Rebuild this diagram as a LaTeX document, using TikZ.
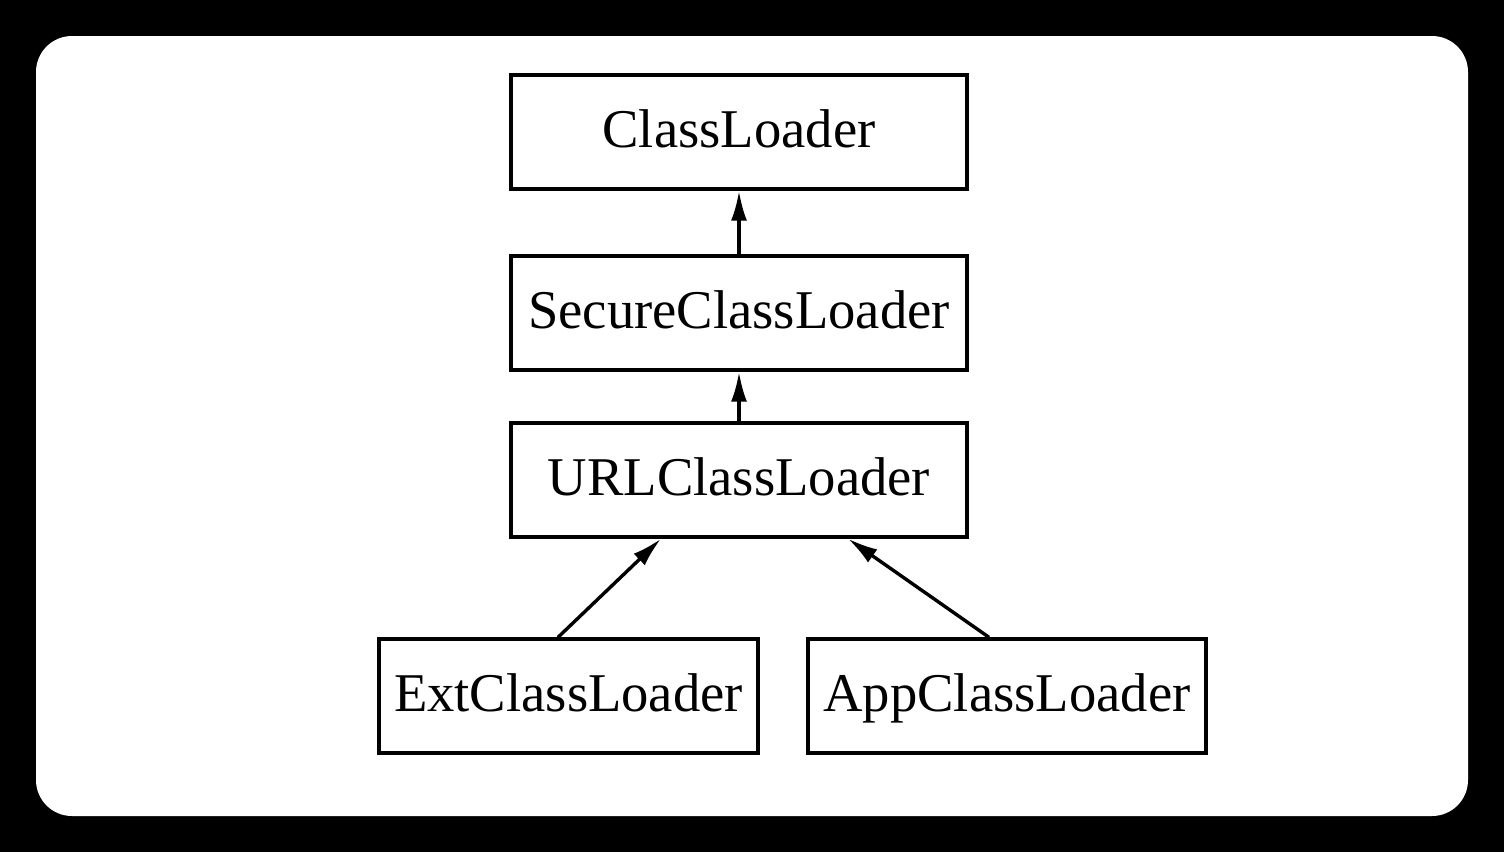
\documentclass[tikz,border=0pt]{standalone}
\usepackage{fontspec}
\setmainfont{Liberation Serif}
\usetikzlibrary{arrows.meta}
\begin{document}
\begin{tikzpicture}[x=0.5pt,y=-0.5pt,
  cls/.style={draw=black,line width=1.7pt,fill=white,minimum height=57pt,inner sep=0pt,
    font=\fontsize{27.3pt}{30pt}\selectfont,text height=18.6pt,text depth=2.7pt},
  inh/.style={line width=1.7pt,-{Latex[length=15pt,width=8pt]}}]
\useasboundingbox (0,0) rectangle (1504,852);
\fill[black] (0,0) rectangle (1504,852);
\fill[white,rounded corners=18pt] (36,36) rectangle (1468,816);
\node[cls,minimum width=228pt] (cl) at (739,132) {ClassLoader};
\node[cls,minimum width=228pt] (scl) at (739,313) {SecureClassLoader};
\node[cls,minimum width=228pt] (url) at (739,480) {URLClassLoader};
\node[cls,minimum width=189.5pt] (ext) at (568.5,696) {ExtClassLoader};
\node[cls,minimum width=199pt] (app) at (1007,696) {AppClassLoader};
\draw[inh] (scl.north) -- (cl.south);
\draw[inh] (url.north) -- (scl.south);
\draw[inh] ([xshift=-5.25pt]ext.north) -- ([xshift=-39pt]url.south);
\draw[inh] ([xshift=-9pt]app.north) -- ([xshift=54.5pt]url.south);
\end{tikzpicture}
\end{document}
